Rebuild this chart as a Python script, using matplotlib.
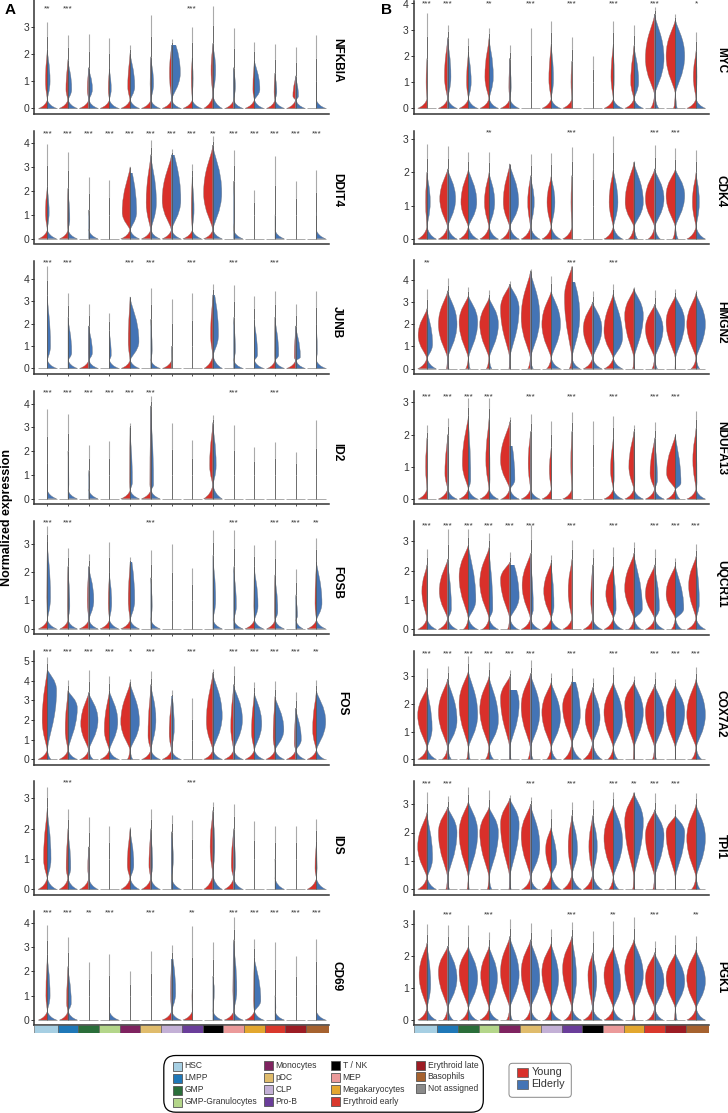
import matplotlib
matplotlib.use('Agg')
import matplotlib.pyplot as plt
from matplotlib.path import Path
from matplotlib.patches import PathPatch, FancyBboxPatch, Rectangle

plt.rcParams['font.family'] = ['Liberation Sans', 'DejaVu Sans']

W, H = 728, 1113
RED = '#d9302a'
BLUE = '#4474b5'

CELL_TYPES = ['HSC', 'LMPP', 'GMP', 'GMP-Granulocytes', 'Monocytes', 'pDC', 'CLP', 'Pro-B',
              'T / NK', 'MEP', 'Megakaryocytes', 'Erythroid early', 'Erythroid late', 'Basophils']
CELL_COLORS = ['#a6cfe3', '#1f78b8', '#2a6e3a', '#b4d68a', '#7f2360', '#e0bc6c', '#c3b0d6', '#6a3d9a',
               '#000000', '#eb9a9a', '#e3a72f', '#d9382c', '#9c1c24', '#a6622f']

# every violin: top = end of the line, yb/eb = peak at zero (young/elderly),
# wy/we = width of the upper bulge, mode = height of bulge, hi = where colour stops
NFKBIA_TOP = [3.17, 2.7, 2.74, 2.58, 2.33, 3.44, 2.55, 3.0, 3.78, 2.95, 2.43, 2.36, 2.25, 2.7]
NFKBIA_YB = [.9, .95, 1, 1, 1, 1, 1, 1, 1, .9, 1, .9, .95, 0]
NFKBIA_EB = [1, 1, 1, 1, 1, 1, 1, 1, 1, 1, 1, 1, 1, 1]
NFKBIA_WY = [.2, .22, .15, .12, .25, .08, .22, .1, .2, .02, .15, .1, .3, 0]
NFKBIA_WE = [.3, .4, .4, .2, .5, .3, .95, .1, .3, .2, .6, .2, .3, .03]
NFKBIA_MODE = [1, .7, .7, .7, .8, .9, 1.3, 1.1, 1.4, .8, .7, .6, .4, .7]
NFKBIA_HI = [2.2, 1.8, 1.5, 1.5, 2.05, 1.9, 2.33, 1.9, 2.4, 1.5, 1.8, 1.3, 1.2, 1]

DDIT4_TOP = [3.94, 3.6, 2.57, 2.44, 3.0, 4.1, 3.74, 3.1, 4.28, 3.7, 2.03, 3.44, 2.4, 2.86]
DDIT4_YB = [.95, .9, 0, 0, 1, 1, 1, 1, 1, 0, 0, 0, 0, 0]
DDIT4_EB = [1, 1, 1, 0, 1, 1, 1, 1, 1, 1, 0, 1, 0, 1]
DDIT4_WY = [.2, .05, 0, 0, .85, .5, 1, .1, 1, 0, 0, 0, 0, 0]
DDIT4_WE = [.2, .2, .1, 0, .7, .6, 1, .2, .95, .1, 0, .08, 0, .02]
DDIT4_MODE = [1.1, .8, .5, 1, 1.1, 1.5, 1.6, 1.2, 1.9, 1, 1, .6, 1, 1]
DDIT4_HI = [2.2, 2.1, 1.2, 1, 3, 3.5, 3.5, 2.6, 3.9, 2.4, 1, 1, 1, 1]

JUNB_TOP = [4.6, 3.39, 2.88, 2.5, 3.2, 3.6, 3.1, 3.36, 3.8, 3.73, 3.24, 3.48, 2.88, 3.48]
JUNB_YB = [0, 0, .95, 0, .95, 0, .95, 0, .95, 0, 0, .8, .95, 0]
JUNB_EB = [1, 1, 1, 1, 1, 1, 0, 0, 1, 1, 1, 1, 1, 1]
JUNB_WY = [0, 0, .05, 0, .2, 0, 0, 0, .25, 0, 0, .02, .15, 0]
JUNB_WE = [.35, .4, .4, .2, .95, .15, .03, 0, .6, .2, .35, .4, .5, .1]
JUNB_MODE = [1, .7, .7, .6, 1.2, .8, .8, 1, 1.5, .8, .6, .6, .5, .8]
JUNB_HI = [3.3, 2.3, 1.9, 1.7, 3.2, 2.2, 1, 1, 3.3, 2.3, 2.2, 2.3, 1.9, 2]

ID2_TOP = [3.75, 3.55, 2.25, 2.43, 3.2, 4.3, 3.2, 2.46, 3.5, 3.1, 2.18, 2.4, 1.96, 3.3]
ID2_YB = [0, 0, 0, 0, 1, 1, 0, 0, 1, 0, 0, 0, 0, 0]
ID2_EB = [1, 1, 1, 0, 1, 1, 0, 0, 1, 0, 0, 0, 0, 0]
ID2_WY = [0, 0, 0, 0, .05, .1, 0, 0, .35, 0, 0, 0, 0, 0]
ID2_WE = [.05, .1, .08, 0, .25, .3, 0, 0, .35, 0, 0, 0, 0, 0]
ID2_MODE = [1, .6, .5, 1, .7, .6, 1, 1, 1.4, 1, 1, 1, 1, 1]
ID2_HI = [1.5, 2, 1.2, 1, 3, 3.9, 1, 1, 3.2, 1, 1, 1, 1, 1]

FOSB_TOP = [3.62, 2.84, 2.64, 3.07, 2.54, 2.78, 2.99, 2.16, 3.5, 3.5, 2.95, 3.13, 2.12, 3.22]
FOSB_YB = [.95, .85, 1, 1, 1, 0, 0, 0, 0, 0, 1, .9, 0, 1]
FOSB_EB = [1, 1, 1, 1, 1, 1, 0, 0, 1, 1, 1, 1, .8, 1]
FOSB_WY = [.05, .05, .15, .12, .2, 0, 0, 0, 0, 0, .05, .05, 0, .15]
FOSB_WE = [.35, .2, .55, .25, .5, .15, 0, 0, .3, .3, .4, .3, .2, .6]
FOSB_MODE = [1.1, .8, 1, .9, 1, .8, 1, 1, 1, .8, .8, .6, .4, .9]
FOSB_HI = [3.1, 2.2, 2.2, 2, 2.35, 1.8, 1, 1, 2.6, 2.2, 2.2, 1.9, 1.2, 2.4]

FOS_TOP = [5.2, 4.03, 4.54, 4.24, 4.08, 4.5, 3.52, 3.1, 4.6, 4.76, 3.93, 3.98, 3.42, 4.03]
FOS_YB = [1, .95, .9, 1, .3, .95, 1, 0, 1, 1, 1, 1, 1, 1]
FOS_EB = [.4, 1, .5, 1, .3, 1, 1, 0, 1, 1, 1, 1, 1, .9]
FOS_WY = [.55, .3, .85, .55, 1, .3, .25, 0, .7, .3, .3, .2, .15, .4]
FOS_WE = [1, 1, 1, .9, 1, .55, .3, 0, 1, .95, .8, .95, .6, 1]
FOS_MODE = [2, 1.5, 1.8, 1.5, 1.9, 1.2, 1.3, 1, 1.9, 1.6, 1.4, 1.1, .8, 1.5]
FOS_MODE_E = [3.5, 2.6, 2, 1.9, 1.9, 2, 1.6, 1, 2.2, 2, 1.8, 1.5, 1, 1.9]
FOS_HI = [4.6, 3.5, 3.4, 3.5, 3.9, 3.8, 3.1, 1, 4.4, 3.8, 3.4, 3.2, 2.6, 3.5]

IDS_TOP = [3.38, 2.65, 2.4, 2.09, 2.04, 2.66, 2.45, 2.29, 2.87, 2.81, 2.25, 2.09, 2.09, 2.31]
IDS_YB = [1, .95, .95, 0, 1, 1, 0, 0, 1, 1, 0, 0, 0, 1]
IDS_EB = [1, 1, 1, 0, 1, 1, 1, 0, 1, 1, 0, 1, 0, 1]
IDS_WY = [.4, .2, .1, 0, .3, .2, .02, 0, .3, .25, 0, 0, 0, .15]
IDS_WE = [.4, .3, .05, 0, .4, .2, .2, 0, .2, .2, 0, .04, 0, .08]
IDS_MODE = [1, .7, .7, 1, .8, .8, 1, 1, 1.4, .8, 1, .6, 1, .7]
IDS_HI = [2.7, 2, 1.4, 1, 2, 2, 1.9, 1, 2.6, 2, 1, 1, 1, 1.6]

CD69_TOP = [3.92, 3.42, 2.4, 2.7, 2, 2.86, 3.07, 3.86, 3.23, 4.23, 3.34, 3.23, 2.63, 3.33]
CD69_YB = [.95, .9, 0, 0, 0, 0, 1, 1, 0, 1, 1, 0, 0, 0]
CD69_EB = [1, 1, 0, 1, 0, 0, 1, 0, 1, 1, 1, 1, 0, 1]
CD69_WY = [.15, .15, 0, 0, 0, 0, .1, .03, 0, .08, .08, 0, 0, 0]
CD69_WE = [.3, .35, 0, .05, 0, 0, .45, 0, .15, .35, .7, .1, 0, .03]
CD69_MODE = [1, .7, 1, .6, 1, 1, 1.1, 1, 1.2, 1.2, .8, .5, 1, 1]
CD69_HI = [2.7, 2.2, 1, 1, 1, 1, 2.5, 1.3, 1.8, 3.3, 2.6, 1, 1, 1.5]

MYC_TOP = [3.63, 3.18, 2.67, 3.05, 2.42, 3.08, 3.35, 2.74, 2, 3.33, 3.18, 3.88, 3.6, 2.9]
MYC_YB = [1, 1, 1, 1, 1, 0, 1, 1, 0, 1, 1, .45, .2, 1]
MYC_EB = [0, 1, 1, 1, 1, 0, 1, 0, 0, 1, 1, .45, .2, 1]
MYC_WY = [.1, .35, .2, .45, .1, 0, .25, .1, 0, .25, .35, 1, 1, .3]
MYC_WE = [0, .35, .3, .45, .15, 0, .25, 0, 0, .1, .5, 1, 1, .1]
MYC_MODE = [1, 1.2, 1, 1.2, .8, 1, 1.1, 1, 1, 1.2, 1, 1.9, 2, 1.2]
MYC_HI = [1.9, 2.7, 2.2, 2.7, 1.9, 1, 2.5, 1.8, 1, 2.5, 2.4, 3.6, 3.4, 2.2]

CDK4_TOP = [2.84, 2.77, 2.59, 2.59, 2.25, 2.55, 2.57, 2.75, 2.57, 3.09, 2.33, 2.82, 2.71, 2.67]
CDK4_YB = [1, 1, 1, 1, .9, 1, 1, 1, 0, 1, .6, .7, .3, 1]
CDK4_EB = [1, 1, 1, 1, 1, 1, 1, 0, 0, 1, .4, .6, .3, 1]
CDK4_WY = [.15, .85, .8, .5, .7, .3, .45, .1, 0, .45, .95, 1, 1, .4]
CDK4_WE = [.35, .85, .9, .6, .95, .4, .4, 0, 0, .5, 1, 1, 1, .35]
CDK4_MODE = [1.1, 1.2, 1.1, 1.1, 1.1, 1.1, 1.1, 1.1, 1, 1.1, 1.1, 1.2, 1.3, 1.1]
CDK4_HI = [2, 2.1, 2.1, 2, 2.25, 1.9, 1.9, 1.9, 1, 2.1, 2.3, 2.1, 2.1, 2]

HMGN2_TOP = [3.57, 4.06, 3.69, 3.54, 3.94, 4.47, 4.17, 4.62, 3.51, 3.79, 3.66, 3.54, 3.57, 3.54]
HMGN2_YB = [1, .15, .3, .3, .1, .3, .5, .3, 1, 1, .15, .3, .05, .55]
HMGN2_EB = [1, .15, .2, .3, .05, .3, 1, .9, 1, 1, .1, .3, .05, .4]
HMGN2_WY = [.95, 1, 1, 1, 1, 1, 1, .8, 1, 1, 1, 1, 1, 1]
HMGN2_WE = [.6, 1, 1, 1, 1, 1, 1, .85, 1, 1, 1, .9, 1, 1]
HMGN2_MODE = [1.5, 2, 2.1, 2, 2.7, 2.3, 2, 3.2, 1.8, 1.7, 2.4, 1.8, 2.1, 2]
HMGN2_MODE_E = [1.1, 2, 2.1, 2, 2.7, 2.3, 2, 2.4, 1.8, 1.4, 2.4, 1.8, 2.1, 2]
HMGN2_HI = [2.7, 3.5, 3.3, 3.2, 3.8, 4.4, 3.5, 4.6, 3, 3.4, 3.6, 2.9, 3.3, 3.4]

NDUFA13_TOP = [2.29, 2.52, 3.13, 3.13, 2.54, 2.64, 2.42, 2.7, 2.42, 2.57, 2.29, 2.39, 2.03, 2.74]
NDUFA13_YB = [.95, 1, 1, 1, .9, 1, 1, 1, 0, 1, 1, 1, .95, 1]
NDUFA13_EB = [0, 1, 1, 1, 1, 1, 0, 0, 0, 1, 1, 1, .5, 1]
NDUFA13_WY = [.15, .3, .65, .35, 1, .25, .2, .12, 0, .3, .55, .5, .95, .35]
NDUFA13_WE = [0, .1, .25, .1, .55, .05, 0, 0, 0, .1, .1, .3, .6, .1]
NDUFA13_MODE = [1, .8, 1.1, 1.2, 1.2, 1.1, .9, 1.1, 1, .9, 1, .8, .8, 1.2]
NDUFA13_MODE_E = [1, .7, .6, .6, .6, .6, 1, 1, 1, .7, .6, .6, .5, .5]
NDUFA13_HI = [1.9, 2, 2.6, 2.5, 2.4, 2.1, 1.6, 2.1, 1, 1.9, 2.1, 1.9, 2, 2.2]

UQCR11_TOP = [2.73, 3.44, 3.41, 3.3, 2.65, 3.55, 2.53, 3.05, 2.73, 2.8, 2.99, 2.73, 2.45, 2.91]
UQCR11_YB = [1, 1, .55, .75, .25, 1, 1, 1, 1, 1, .6, 1, .45, 1]
UQCR11_EB = [1, 1, 1, 1, .9, 1, 1, 0, 1, 1, .8, 1, .7, 1]
UQCR11_WY = [.55, .9, 1, 1, 1, .9, .8, .4, .2, .8, 1, 1, 1, .8]
UQCR11_WE = [.05, .4, .8, .4, 1, .3, .3, 0, .1, .3, .9, .5, .9, .35]
UQCR11_MODE = [1.3, 1.3, 1.8, 1.6, 1.7, 1.5, 1.3, 1.3, 1, 1.2, 1.4, 1.2, 1.2, 1.5]
UQCR11_MODE_E = [.9, .7, 1, .7, 1.1, .7, .8, 1, 1.3, .7, .7, .7, .7, .9]
UQCR11_HI = [2.2, 2.4, 2.9, 2.8, 2.3, 2.6, 2.3, 2.4, 2.2, 2.2, 2.6, 2.2, 2.2, 2.5]

COX7A2_TOP = [3.29, 3.37, 3.73, 3.53, 3.23, 3.59, 3.11, 3.29, 2.95, 3.35, 2.99, 3.14, 2.9, 3.33]
COX7A2_YB = [1, .6, .2, .4, .05, .3, .5, .9, 1, .6, .1, .25, .03, .5]
COX7A2_EB = [1, .4, .2, .5, .15, .3, .6, 1, 1, .5, .1, .2, .03, .6]
COX7A2_WY = [1, 1, 1, 1, 1, 1, 1, 1, .8, 1, 1, 1, 1, 1]
COX7A2_WE = [.55, 1, 1, 1, 1, 1, 1, .9, .8, 1, 1, 1, 1, 1]
COX7A2_MODE = [1.6, 1.7, 2, 1.8, 2.2, 1.9, 1.7, 1.9, 1.5, 1.7, 2, 1.7, 1.7, 1.6]
COX7A2_MODE_E = [1.1, 1.4, 1.6, 1.4, 2, 1.7, 1.5, 1.6, 1.5, 1.5, 1.7, 1.6, 1.7, 1.6]
COX7A2_HI = [2.6, 2.9, 3.2, 3, 3, 3.1, 2.8, 2.8, 2.6, 2.8, 2.8, 2.7, 2.7, 2.9]

TPI1_TOP = [3.41, 3.29, 3.61, 3.49, 3.32, 3.26, 2.81, 3.06, 3.14, 3.41, 3.41, 3.38, 3.02, 3.4]
TPI1_YB = [1, .2, .15, .2, .1, .9, 1, 1, 1, .5, .15, .2, .03, .5]
TPI1_EB = [1, .2, .1, .3, .15, .8, 1, 1, 1, .6, .1, .15, .03, .45]
TPI1_WY = [1, 1, 1, 1, 1, 1, .6, .4, .4, 1, 1, 1, 1, 1]
TPI1_WE = [.6, 1, 1, 1, 1, 1, .6, .6, .5, 1, 1, 1, 1, 1]
TPI1_MODE = [1.5, 2, 2, 2, 2.3, 1.9, 1.4, 1.5, 1.5, 1.8, 2.4, 1.9, 2, 1.8]
TPI1_MODE_E = [1.1, 2, 2, 2, 2.3, 1.5, 1, 1.4, 1.5, 1.7, 2.4, 1.9, 2, 1.8]
TPI1_HI = [2.7, 2.9, 3.1, 2.9, 3.2, 3, 2.2, 2.6, 2.6, 3, 3.4, 2.8, 2.6, 3]

PGK1_TOP = [2.98, 2.96, 2.95, 2.73, 3.15, 3.01, 2.85, 3.04, 2.77, 3.08, 3.22, 2.46, 2.64, 2.63]
PGK1_YB = [1, .5, .8, 1, .35, .7, .7, .8, 1, 1, .25, .8, .15, 1]
PGK1_EB = [1, .6, .9, 1, .3, .8, 1, 1, 1, 1, .2, .9, .2, 1]
PGK1_WY = [.85, 1, 1, .9, 1, 1, 1, 1, .5, 1, 1, 1, 1, 1]
PGK1_WE = [.4, 1, 1, .9, 1, 1, .8, .5, .45, .8, 1, 1, 1, 1]
PGK1_MODE = [1.4, 1.5, 1.5, 1.4, 1.5, 1.5, 1.5, 1.6, 1.4, 1.4, 1.6, 1.3, 1.3, 1.3]
PGK1_MODE_E = [1.1, 1.3, 1.3, 1.3, 1.4, 1.3, 1.3, 1.3, 1.2, 1.1, 1.4, 1.2, 1.2, 1.2]
PGK1_HI = [2.4, 2.3, 2.3, 2.3, 2.6, 2.5, 2.4, 2.6, 2.1, 2.3, 2.5, 2.1, 2.1, 2.2]

# significance stars, one entry per cell type
S3, S2, S1, NS = '***', '**', '*', ''
NFKBIA_SIG = [S2, S3, NS, NS, NS, NS, NS, S3, NS, NS, NS, NS, NS, NS]
DDIT4_SIG = [S3, S3, S3, S3, S3, S3, S3, S3, S2, S3, S3, S3, S3, S3]
JUNB_SIG = [S3, S3, NS, NS, S3, S3, NS, S3, NS, S3, NS, S3, NS, NS]
ID2_SIG = [S3, S3, S3, S3, S3, S3, NS, NS, NS, S3, NS, S3, NS, NS]
FOSB_SIG = [S3, S3, NS, NS, NS, S3, NS, NS, NS, S3, NS, S3, S3, S2]
FOS_SIG = [S3, S3, S3, S3, S1, S3, NS, S3, NS, S3, S3, S3, S3, S2]
IDS_SIG = [NS, S3, NS, NS, NS, NS, NS, S3, NS, NS, NS, NS, NS, NS]
CD69_SIG = [S3, S3, S2, S3, NS, S3, NS, S2, NS, S3, S3, S3, S3, S3]
MYC_SIG = [S3, S3, NS, S2, NS, S3, NS, S3, NS, S3, NS, S3, NS, S1]
CDK4_SIG = [NS, NS, NS, S2, NS, NS, NS, S3, NS, NS, NS, S3, S3, NS]
HMGN2_SIG = [S2, NS, NS, NS, NS, NS, NS, S3, NS, S3, NS, NS, NS, NS]
NDUFA13_SIG = [S3, S3, S3, S3, NS, S3, NS, S3, NS, S3, NS, S3, S3, NS]
UQCR11_SIG = [S3, S3, S3, S3, S3, S3, NS, S3, NS, S3, NS, S3, S3, S3]
COX7A2_SIG = [S3, S3, S3, S3, S3, S3, NS, S3, NS, S3, NS, S3, S3, S3]
TPI1_SIG = [S3, S3, NS, NS, NS, S3, NS, S3, NS, S3, S2, S3, S3, NS]
PGK1_SIG = [NS, S3, NS, S3, NS, NS, NS, S3, NS, S2, NS, S3, NS, S2]

# elderly side cut off flat at this value (gene, cell type number)
FLAT_TOPS = {('NFKBIA', 7): 2.33, ('DDIT4', 5): 2.75, ('DDIT4', 7): 3.5, ('FOSB', 5): 2.35, ('FOS', 7): 3.2,
             ('JUNB', 9): 3.3, ('CD69', 7): 2.5, ('HMGN2', 8): 3.9, ('NDUFA13', 5): 1.65,
             ('UQCR11', 5): 2.2, ('COX7A2', 5): 2.5, ('COX7A2', 8): 2.8}
# higher waist above the peak at zero
HIGH_NECK = {('NFKBIA', 9): .45, ('JUNB', 9): .55, ('ID2', 9): .55, ('IDS', 9): .45, ('MYC', 12): .5, ('MYC', 13): .55,
             ('TPI1', 7): .5, ('TPI1', 8): .5, ('TPI1', 9): .5, ('COX7A2', 8): .55, ('COX7A2', 9): .55}

# name, data lists, mode_e, sig, neck, max tick
PANELS_A = [
    ('NFKBIA', NFKBIA_TOP, NFKBIA_YB, NFKBIA_EB, NFKBIA_WY, NFKBIA_WE, NFKBIA_MODE, None, NFKBIA_HI, NFKBIA_SIG, .3, 3),
    ('DDIT4', DDIT4_TOP, DDIT4_YB, DDIT4_EB, DDIT4_WY, DDIT4_WE, DDIT4_MODE, None, DDIT4_HI, DDIT4_SIG, .35, 4),
    ('JUNB', JUNB_TOP, JUNB_YB, JUNB_EB, JUNB_WY, JUNB_WE, JUNB_MODE, None, JUNB_HI, JUNB_SIG, .35, 4),
    ('ID2', ID2_TOP, ID2_YB, ID2_EB, ID2_WY, ID2_WE, ID2_MODE, None, ID2_HI, ID2_SIG, .35, 4),
    ('FOSB', FOSB_TOP, FOSB_YB, FOSB_EB, FOSB_WY, FOSB_WE, FOSB_MODE, None, FOSB_HI, FOSB_SIG, .3, 3),
    ('FOS', FOS_TOP, FOS_YB, FOS_EB, FOS_WY, FOS_WE, FOS_MODE, FOS_MODE_E, FOS_HI, FOS_SIG, .45, 5),
    ('IDS', IDS_TOP, IDS_YB, IDS_EB, IDS_WY, IDS_WE, IDS_MODE, None, IDS_HI, IDS_SIG, .35, 3),
    ('CD69', CD69_TOP, CD69_YB, CD69_EB, CD69_WY, CD69_WE, CD69_MODE, None, CD69_HI, CD69_SIG, .35, 4),
]
PANELS_B = [
    ('MYC', MYC_TOP, MYC_YB, MYC_EB, MYC_WY, MYC_WE, MYC_MODE, None, MYC_HI, MYC_SIG, .35, 4),
    ('CDK4', CDK4_TOP, CDK4_YB, CDK4_EB, CDK4_WY, CDK4_WE, CDK4_MODE, None, CDK4_HI, CDK4_SIG, .35, 3),
    ('HMGN2', HMGN2_TOP, HMGN2_YB, HMGN2_EB, HMGN2_WY, HMGN2_WE, HMGN2_MODE, HMGN2_MODE_E, HMGN2_HI, HMGN2_SIG, .45, 4),
    ('NDUFA13', NDUFA13_TOP, NDUFA13_YB, NDUFA13_EB, NDUFA13_WY, NDUFA13_WE, NDUFA13_MODE, NDUFA13_MODE_E, NDUFA13_HI, NDUFA13_SIG, .3, 3),
    ('UQCR11', UQCR11_TOP, UQCR11_YB, UQCR11_EB, UQCR11_WY, UQCR11_WE, UQCR11_MODE, UQCR11_MODE_E, UQCR11_HI, UQCR11_SIG, .35, 3),
    ('COX7A2', COX7A2_TOP, COX7A2_YB, COX7A2_EB, COX7A2_WY, COX7A2_WE, COX7A2_MODE, COX7A2_MODE_E, COX7A2_HI, COX7A2_SIG, .4, 3),
    ('TPI1', TPI1_TOP, TPI1_YB, TPI1_EB, TPI1_WY, TPI1_WE, TPI1_MODE, TPI1_MODE_E, TPI1_HI, TPI1_SIG, .4, 3),
    ('PGK1', PGK1_TOP, PGK1_YB, PGK1_EB, PGK1_WY, PGK1_WE, PGK1_MODE, PGK1_MODE_E, PGK1_HI, PGK1_SIG, .35, 3),
]

# layout in pixels of the reference: top, bottom, y of zero, px per unit, y of the stars, y of gene name
LAYOUT_A = [(0, 113.5, 108.3, 27.1, 9, 60), (130.7, 243.5, 238.7, 24, 133.7, 190),
            (260.7, 373.7, 368.3, 22.3, 262.5, 322), (391, 504, 498.7, 23.8, 392.5, 452),
            (521, 634, 628.7, 28.3, 523.3, 583), (651, 764.7, 759.3, 19.67, 652.3, 703),
            (781, 894.7, 889.3, 30.3, 783.3, 845), (911, 1025, 1020, 24.3, 912.7, 976)]
LAYOUT_B = [(1, 113.5, 108.3, 26.2, 4, 60), (130.7, 243.5, 239, 33.4, 132.7, 191),
            (260, 374, 368.7, 22.25, 263, 322), (391, 504, 499, 32.2, 396.7, 448),
            (521, 634.5, 629.3, 29.3, 525.7, 584), (651, 765, 759.3, 27.7, 653.7, 714),
            (781, 895, 889.3, 28.4, 784.3, 846), (911, 1025, 1020, 32.1, 914.7, 977)]

HW = .45
XLIM = (1 - (47.3 - 34) / 20.7, 1 + (329 - 47.3) / 20.7)


def half(ax, x, side, base, width, mode, hi, neck, color, cut=None):
    if base == 0 and width == 0:
        return
    b = side * base * HW
    w = side * width * HW
    nw = side * .03 * HW * min(1, 2 * width) if base > 0 and width > 0 else 0
    mode = max(mode, neck + .15)
    hi = max(hi, mode + .1)
    if width == 0:
        verts = [(0, 0), (b, 0), (b * .45, neck * .2), (b * .12, neck * .6), (0, neck), (0, 0)]
        codes = [Path.MOVETO, Path.LINETO, Path.CURVE4, Path.CURVE4, Path.CURVE4, Path.CLOSEPOLY]
    else:
        rise = mode - neck
        fall = hi - mode
        verts = [(0, 0), (b, 0),
                 (b * .45, neck * .2), (nw + b * .12, neck * .6), (nw, neck),
                 (nw, neck + rise * .2), (w, mode - rise * .5), (w, mode),
                 (w, mode + fall * .5), (w * .15, mode + fall * .75), (0, hi),
                 (0, 0)]
        codes = [Path.MOVETO, Path.LINETO] + [Path.CURVE4] * 9 + [Path.CLOSEPOLY]
    verts = [(vx + x, vy) for vx, vy in verts]
    p = PathPatch(Path(verts, codes), facecolor=color, edgecolor='#777777', lw=.25, zorder=2)
    ax.add_patch(p)
    if cut is not None:
        p.set_clip_path(Rectangle((x - 1, -1), 2, cut + 1, transform=ax.transData))


def draw_column(panels, layout, left, right, bar_edge, label_x, xticks):
    for p, box in zip(panels, layout):
        gene, top, yb, eb, wy, we, mode, mode_e, hi, sig, neck, maxtick = p
        t, b, y0, scale, star_y, gene_y = box
        ax = fig.add_axes([left / W, 1 - b / H, (right - left) / W, (b - t) / H])
        ax.patch.set_alpha(0)
        ax.set_xlim(*XLIM)
        ax.set_ylim((y0 - b) / scale, (y0 - t) / scale)
        for i in range(14):
            x = i + 1
            me = mode_e[i] if mode_e else mode[i]
            nk = HIGH_NECK.get((gene, x), neck)
            cut = FLAT_TOPS.get((gene, x))
            ax.plot([x - HW, x + HW], [0, 0], color='#aaaaaa', lw=.7, zorder=1, solid_capstyle='butt')
            mid = hi[i] + (top[i] - hi[i]) * .5
            ax.plot([x, x], [hi[i], mid], color='#666666', lw=.7, zorder=1, solid_capstyle='butt')
            ax.plot([x, x], [mid, top[i]], color='#aaaaaa', lw=.8, zorder=1, solid_capstyle='butt')
            ax.plot([x, x], [0, hi[i]], color='#555555', lw=.6, zorder=3, solid_capstyle='butt')
            half(ax, x, -1, yb[i], wy[i], mode[i], hi[i], nk, RED)
            half(ax, x, 1, eb[i], we[i], me, cut + .6 if cut else hi[i], nk, BLUE, cut)
            if sig[i]:
                ax.text(x, 1 - (star_y - t) / (b - t), sig[i], transform=ax.get_xaxis_transform(),
                        ha='center', va='center', fontsize=6, color='#333333')
        ax.set_yticks(range(maxtick + 1))
        ax.tick_params(axis='y', labelsize=7.5, length=2, width=.7, color='#333333', labelcolor='#333333', pad=1.5)
        if gene in xticks:
            ax.set_xticks(range(1, 15))
            ax.tick_params(axis='x', length=1.5, width=.6, color='#333333', labelbottom=False)
        else:
            ax.set_xticks([])
        for s in ('top', 'right'):
            ax.spines[s].set_visible(False)
        for s in ('left', 'bottom'):
            ax.spines[s].set_linewidth(1.1)
            ax.spines[s].set_color('#333333')
        # gene name, rotated
        bg.text(label_x + (5 if gene == 'FOS' else 0), gene_y, gene, rotation=270, ha='center', va='center',
                fontsize=8.6, fontweight='bold', color='black')
    # colour strip under the last panel
    strip = fig.add_axes([left / W, 1 - (bar_edge + 8.3) / H, (right - left) / W, 8.3 / H])
    strip.set_xlim(*XLIM)
    strip.set_ylim(0, 1)
    for i, c in enumerate(CELL_COLORS):
        lo = XLIM[0] if i == 0 else i + .5
        hi_ = XLIM[1] if i == 13 else i + 1.5
        strip.add_patch(Rectangle((lo, 0), hi_ - lo, 1, facecolor=c, edgecolor='#555555', lw=.4))
    strip.axis('off')


fig = plt.figure(figsize=(W / 100, H / 100), dpi=100)
bg = fig.add_axes([0, 0, 1, 1])
bg.set_xlim(0, W)
bg.set_ylim(H, 0)
bg.axis('off')

draw_column(PANELS_A, LAYOUT_A, 34, 329, 1025, 337, ('JUNB', 'ID2', 'FOSB'))
draw_column(PANELS_B, LAYOUT_B, 413.7, 708.7, 1025, 721, ())

bg.text(10, 10, 'A', fontsize=11, fontweight='bold', ha='center', va='center')
bg.text(387, 9.5, 'B', fontsize=11, fontweight='bold', ha='center', va='center')
bg.text(7, 517, 'Normalized expression', rotation=90, fontsize=9, fontweight='bold', ha='center', va='center')

# cell type legend
bg.add_patch(FancyBboxPatch((163.8, 1055.5), 319.5, 56.7, boxstyle='round,pad=0,rounding_size=12',
                            facecolor='white', edgecolor='black', lw=.9))
LEGEND_NAMES = CELL_TYPES + ['Not assigned']
LEGEND_SWATCHES = CELL_COLORS + ['#8a8a8a']
legend_pos = [(172.5, 1066), (172.5, 1078), (172.5, 1090), (172.5, 1102),
              (263.5, 1065.5), (263.5, 1077), (263.5, 1089), (263.5, 1101.5),
              (330.7, 1065.5), (330.7, 1077), (330.7, 1089), (330.7, 1101.5),
              (415.7, 1065.5), (415.7, 1076.5), (415.7, 1088.5)]
for name, c, (px, py) in zip(LEGEND_NAMES, LEGEND_SWATCHES, legend_pos):
    bg.add_patch(Rectangle((px, py - 4.5), 9, 9, facecolor=c, edgecolor='#555555', lw=.6))
    bg.text(px + 12, py, name, fontsize=6.15, ha='left', va='center', color='#333333')

# young / elderly legend
bg.add_patch(FancyBboxPatch((509, 1063.3), 62.3, 34, boxstyle='round,pad=0,rounding_size=3.5',
                            facecolor='white', edgecolor='#888888', lw=.7))
for name, c, py in (('Young', RED, 1072), ('Elderly', BLUE, 1084)):
    bg.add_patch(Rectangle((517, py - 4.5), 11, 9, facecolor=c, edgecolor='#555555', lw=.5))
    bg.text(531.5, py, name, fontsize=7.8, ha='left', va='center', color='#333333')

fig.savefig('out.png', dpi=100)
